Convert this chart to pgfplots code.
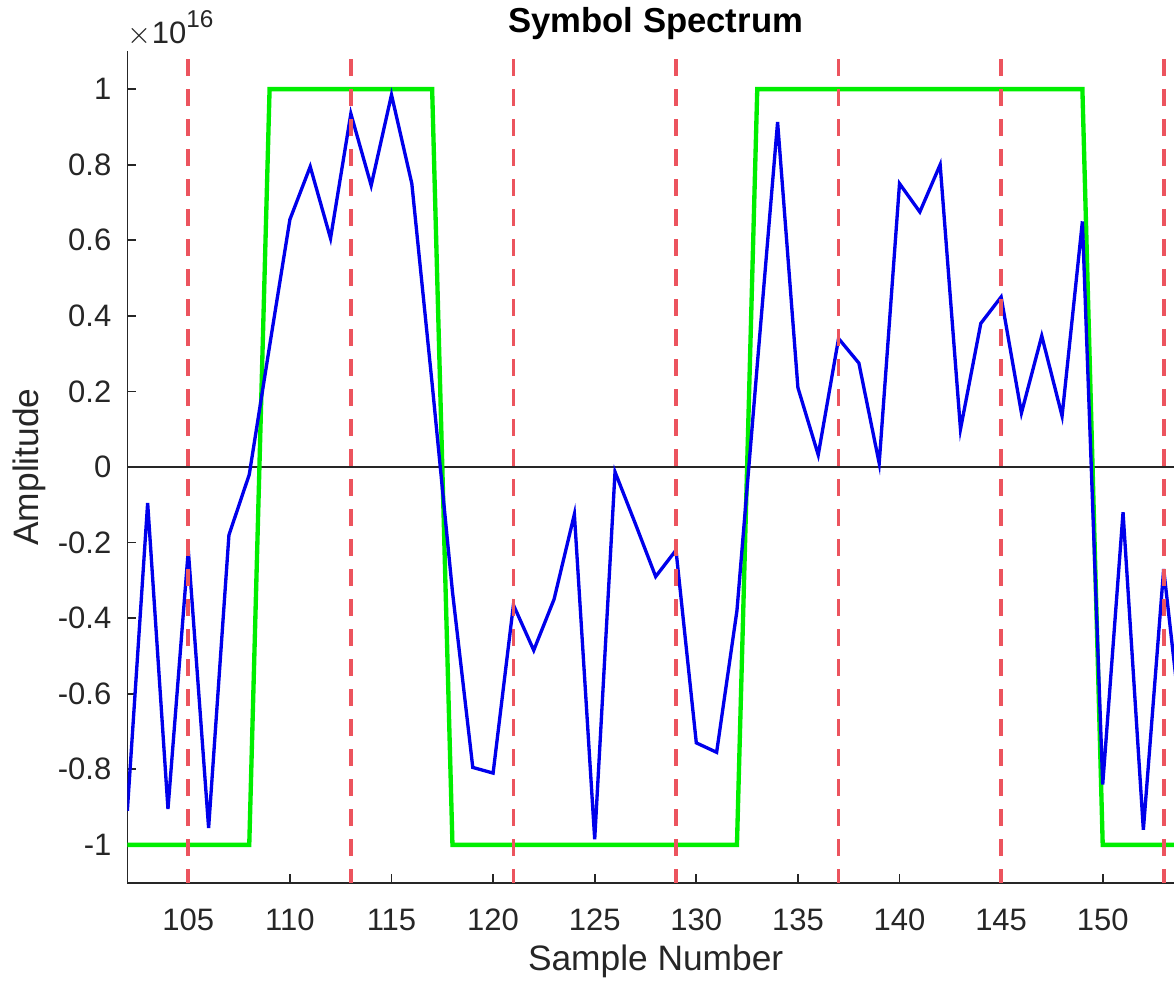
\documentclass[border=0pt]{standalone}
\usepackage{fontspec}
\setmainfont{Liberation Sans}
\usepackage{pgfplots}
\usepackage{pgfplotstable}
\pgfplotsset{compat=1.18}
\definecolor{axgray}{RGB}{38,38,38}
\definecolor{sigblue}{RGB}{0,0,235}
\definecolor{symgreen}{RGB}{0,238,0}
\definecolor{markred}{RGB}{236,84,94}

% sample number, received signal (x1e16), symbol level (x1e16)
\pgfplotstableread{
n    sig     sym
102 -0.910 -1
103 -0.095 -1
104 -0.905 -1
105 -0.220 -1
106 -0.955 -1
107 -0.180 -1
108 -0.020 -1
109  0.320  1
110  0.655  1
111  0.795  1
112  0.605  1
113  0.935  1
114  0.745  1
115  0.985  1
116  0.750  1
117  0.220  1
118 -0.330 -1
119 -0.795 -1
120 -0.810 -1
121 -0.365 -1
122 -0.485 -1
123 -0.350 -1
124 -0.125 -1
125 -0.985 -1
126 -0.013 -1
127 -0.150 -1
128 -0.290 -1
129 -0.220 -1
130 -0.730 -1
131 -0.755 -1
132 -0.380 -1
133  0.270  1
134  0.913  1
135  0.210  1
136  0.032  1
137  0.340  1
138  0.275  1
139  0.010  1
140  0.750  1
141  0.675  1
142  0.800  1
143  0.100  1
144  0.380  1
145  0.450  1
146  0.143  1
147  0.347  1
148  0.135  1
149  0.650  1
150 -0.840 -1
151 -0.120 -1
152 -0.960 -1
153 -0.270 -1
154 -0.750 -1
}\spectrum

\begin{document}
\begin{tikzpicture}
\useasboundingbox (-38.2pt,-30.1pt) rectangle (314.0pt,264.8pt);
\clip (-38.2pt,-30.1pt) rectangle (314.0pt,264.8pt);
\begin{axis}[
  at={(0pt,0pt)}, anchor=south west,
  scale only axis, width=317pt, height=249.4pt,
  xmin=102, xmax=154, ymin=-1.1, ymax=1.1,
  clip mode=individual,
  axis x line*=bottom, axis y line*=left,
  axis line style={axgray, line width=0.5pt, -},
  xtick={105,110,...,150},
  ytick={-1,-0.8,-0.6,-0.4,-0.2,0,0.2,0.4,0.6,0.8,1},
  tick align=inside, major tick length=2.7pt,
  tick style={axgray, line width=0.5pt},
  /pgf/number format/assume math mode=true,
  tick label style={font=\fontsize{9.3}{11}\selectfont, text=axgray, inner sep=0pt},
  xticklabel style={anchor=north, yshift=-7.8pt},
  yticklabel style={anchor=east, xshift=-4.6pt},
  title={Symbol Spectrum},
  every axis title shift=0pt,
  title style={font=\fontsize{10.4}{12}\selectfont\bfseries, inner sep=0pt,
    at={(axis description cs:0.5,1.0229)}, anchor=base},
  xlabel={Sample Number},
  every axis x label/.style={font=\fontsize{10.6}{12}\selectfont, text=axgray, inner sep=0pt,
    at={(axis description cs:0.5,-0.106)}, anchor=base},
  ylabel={Amplitude},
  every axis y label/.style={font=\fontsize{10.6}{12}\selectfont, text=axgray, inner sep=0pt,
    at={(axis description cs:-0.0836,0.5)}, rotate=90, anchor=base},
]
\addplot[black!85, line width=0.35pt] coordinates {(102,0) (154,0)};
\addplot[symgreen, line width=1.3pt, line join=miter] table[x=n, y=sym] {\spectrum};
\addplot[sigblue, line width=1.0pt] table[x=n, y=sig] {\spectrum};
\pgfplotsinvokeforeach{105,113,121,129,137,145,153}{
  \addplot[markred, line width=1.15pt, dash pattern=on 5pt off 4pt, dash phase=6.6pt]
    coordinates {(#1,1.1) (#1,-1.1)};
}
\node[anchor=base west, inner sep=0pt, text=axgray, font=\fontsize{9.3}{11}\selectfont]
  at (axis description cs:0.0,1.01) {$\times$10\raisebox{4.8pt}{\fontsize{7.3}{8}\selectfont 16}};
\end{axis}
\end{tikzpicture}
\end{document}
